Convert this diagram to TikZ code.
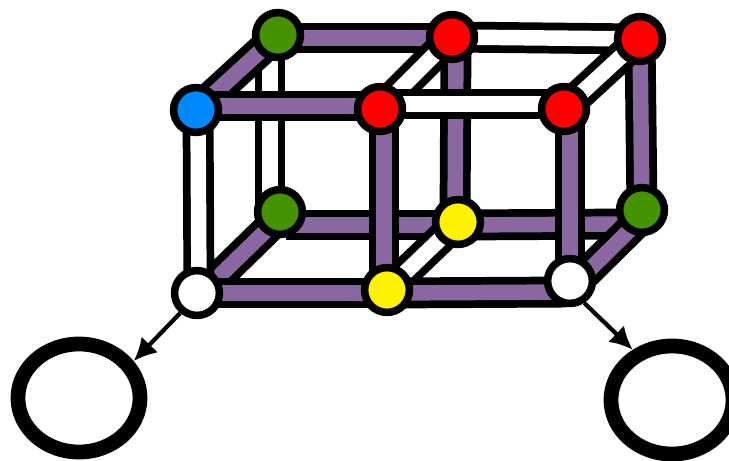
\documentclass[tikz,border=0pt]{standalone}
\usepackage{xcolor}
\usepackage{tikz}
\usetikzlibrary{shapes,arrows.meta,positioning,calc,backgrounds}

\definecolor{tubepurple}{HTML}{8A67A0}
\definecolor{dotblue}{HTML}{0088FF}
\definecolor{dotgreen}{HTML}{459300}

\begin{document}
\begin{tikzpicture}[x=0.02cm, y=-0.02cm,
    site/.style={circle, draw=black, line width=4.3pt, minimum size=25.5pt, inner sep=0pt},
    site_blue/.style={site, fill=dotblue},
    site_green/.style={site, fill=dotgreen},
    site_red/.style={site, fill=red},
    site_yellow/.style={site, fill=yellow},
    site_white/.style={site, fill=white},
    outcome/.style={ellipse, draw=black, line width=8.4pt, fill=white, minimum width=69.5pt, minimum height=61.5pt, inner sep=0pt},
    tube/.style={draw=black, line width=4.4pt, double distance=8.8pt},
    tube_on/.style={tube, double=tubepurple},
    tube_off/.style={tube, double=white},
    line/.style={draw, -{Latex[length=13pt,width=13pt]}, line width=2.4pt}]

    \useasboundingbox (0,0) rectangle (729,460);

    \node [site_blue] (ftl) at (196,110) {};
    \node [site_green] (btl) at (278,35) {};
    \node [site_red] (btm) at (452,37) {};
    \node [site_red] (btr) at (640,39) {};
    \node [site_red] (ftm) at (380,109) {};
    \node [site_red] (ftr) at (564,109) {};
    \node [site_green] (bbl) at (280,212) {};
    \node [site_yellow] (bbm) at (458,222) {};
    \node [site_green] (bbr) at (642,210) {};
    \node [site_white] (fbl) at (197,293) {};
    \node [site_yellow] (fbm) at (387,290) {};
    \node [site_white] (fbr) at (570,281) {};

    \node [outcome] (outl) at (79,398) {};
    \node [outcome] (outr) at (672,400) {};

    \begin{scope}[on background layer]
        % back of the frame
        \path [tube_off] ($(btl.center)+(-8,0)$) -- ($(bbl.center)+(-10,0)$);
        \path [tube_on] ($(btm.center)+(4,0)$) -- ($(bbm.center)+(-3,0)$);
        \path [tube_on] (btr.center) -- (bbr.center);
        \path [tube_on] ($(btl.center)+(0,3)$) -- ($(btm.center)+(0,1)$);
        \path [tube_off] (btm.center) -- (btr.center);
        \path [tube_on] ($(bbl.center)+(6,13)$) -- ($(bbm.center)+(0,3)$);
        \path [tube_on] ($(bbm.center)+(0,3)$) -- ($(bbr.center)+(-12,14)$);
        % depth
        \path [tube_on] (ftl.center) -- (btl.center);
        \path [tube_off] (ftm.center) -- (btm.center);
        \path [tube_off] (ftr.center) -- (btr.center);
        \path [tube_on] ($(fbl.center)+(5,0)$) -- ($(bbl.center)+(5,0)$);
        \path [tube_off] (fbm.center) -- (bbm.center);
        \path [tube_on] ($(fbr.center)+(8,0)$) -- ($(bbr.center)+(8,0)$);
        % front of the frame
        \path [tube_on] ($(ftl.center)+(0,-4)$) -- ($(ftm.center)+(0,-3)$);
        \path [tube_off] ($(ftm.center)+(0,-5)$) -- ($(ftr.center)+(0,-5)$);
        \path [tube_on] (fbl.center) -- ($(fbm.center)+(0,3)$);
        \path [tube_on] ($(fbm.center)+(0,3)$) -- ($(fbr.center)+(-3,11)$);
        \path [tube_off] ($(ftl.center)+(2,0)$) -- ($(fbl.center)+(2,0)$);
        \path [tube_on] ($(ftm.center)+(4,0)$) -- ($(fbm.center)+(-3,0)$);
        \path [tube_on] ($(ftr.center)+(6,0)$) -- (fbr.center);
    \end{scope}

    \path [line] (fbl.-130) -- (outl.34);
    \path [line] (fbr.-57) -- (outr.128);
\end{tikzpicture}
\end{document}
